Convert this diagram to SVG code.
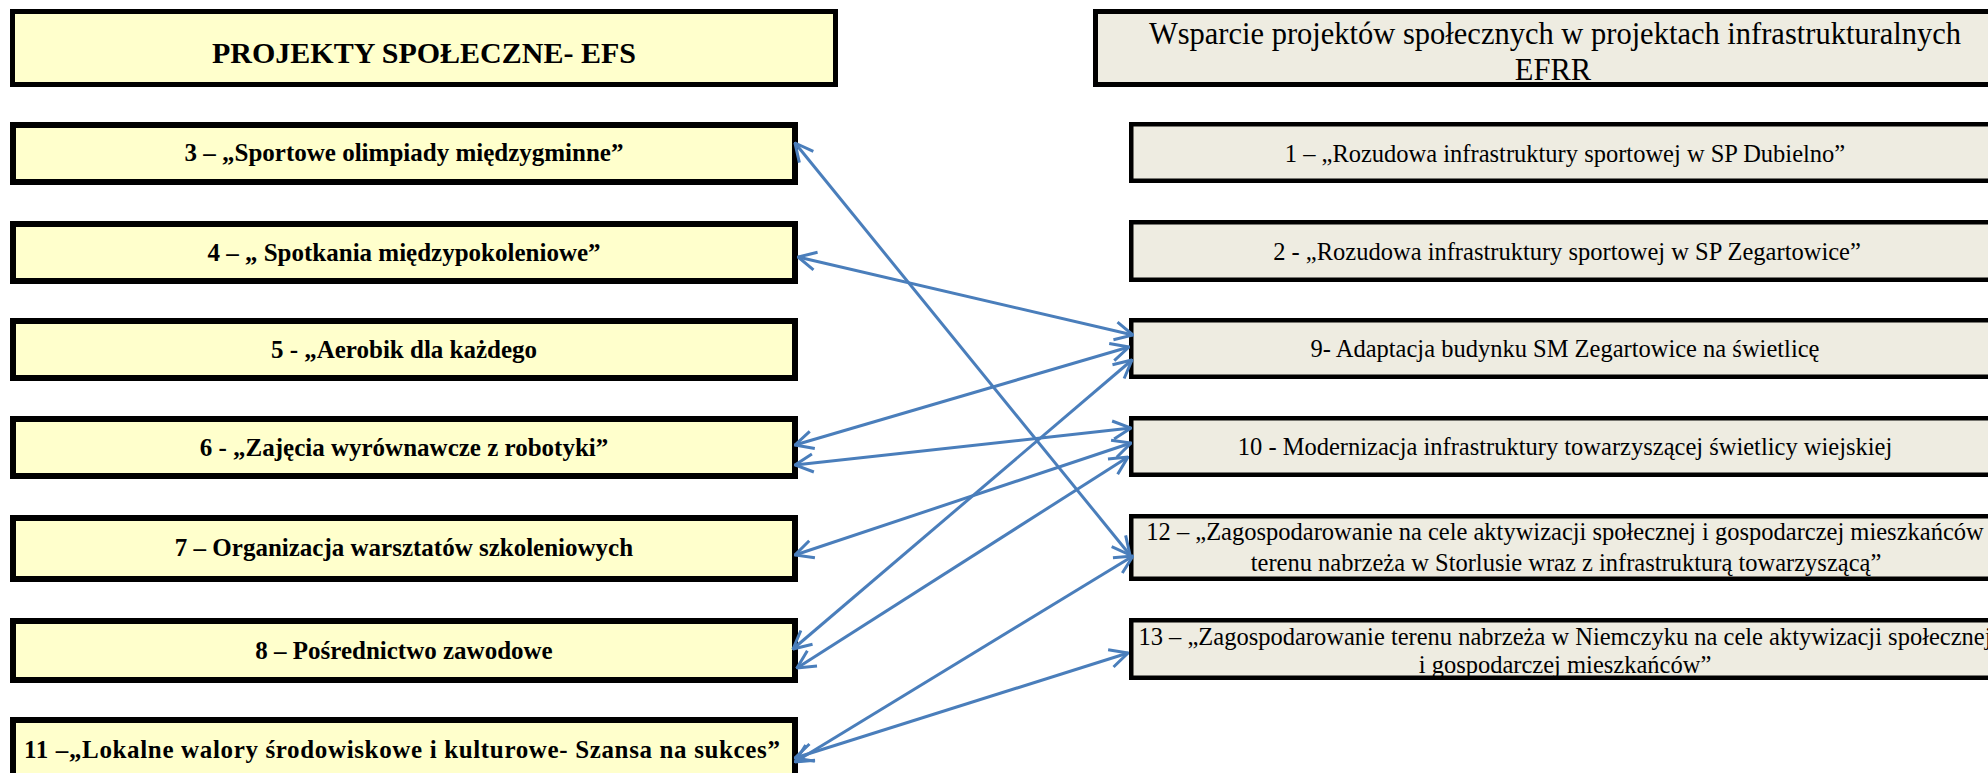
<svg xmlns="http://www.w3.org/2000/svg" width="1988" height="773" viewBox="0 0 1988 773">
<defs>
<style>
.lbox{fill:#FFFFCC;stroke:#000;stroke-width:6}
.lhead{fill:#FFFFCC;stroke:#000;stroke-width:5}
.rbox{fill:#EEECE1;stroke:#000;stroke-width:4.5}
.rhead{fill:#EEECE1;stroke:#000;stroke-width:5}
.lt{font-family:"Liberation Serif","Times New Roman",serif;font-weight:bold;font-size:25px;fill:#000;text-anchor:middle}
.rt{font-family:"Liberation Serif","Times New Roman",serif;font-size:24.5px;fill:#000;text-anchor:middle}
.conn line{stroke:#4A7EBB;stroke-width:3;fill:none;marker-start:url(#ah);marker-end:url(#ah)}
</style>
<marker id="ah" viewBox="0 0 22 22" refX="21" refY="11" markerWidth="22" markerHeight="22" markerUnits="userSpaceOnUse" orient="auto-start-reverse">
<path d="M3,2 L21,11 L3,20" fill="none" stroke="#4A7EBB" stroke-width="3"/>
</marker>
</defs>
<rect width="1988" height="773" fill="#FFFFFF"/>

<g id="efs-header">
<rect class="lhead" x="12.5" y="11.5" width="823" height="73"/>
<text class="lt" x="424" y="63" style="font-size:30px">PROJEKTY SPOŁECZNE- EFS</text>
</g>
<g id="p3">
<rect class="lbox" x="13" y="125" width="782" height="57"/>
<text class="lt" x="404" y="161">3 – „Sportowe olimpiady międzygminne”</text>
</g>
<g id="p4">
<rect class="lbox" x="13" y="224" width="782" height="57"/>
<text class="lt" x="404" y="261">4 – „ Spotkania międzypokoleniowe”</text>
</g>
<g id="p5">
<rect class="lbox" x="13" y="321" width="782" height="57"/>
<text class="lt" x="404" y="358">5 - „Aerobik dla każdego</text>
</g>
<g id="p6">
<rect class="lbox" x="13" y="419" width="782" height="57"/>
<text class="lt" x="404" y="456">6 - „Zajęcia wyrównawcze z robotyki”</text>
</g>
<g id="p7">
<rect class="lbox" x="13" y="518" width="782" height="61"/>
<text class="lt" x="404" y="556">7 – Organizacja warsztatów szkoleniowych</text>
</g>
<g id="p8">
<rect class="lbox" x="13" y="621" width="782" height="59"/>
<text class="lt" x="404" y="659">8 – Pośrednictwo zawodowe</text>
</g>
<g id="p11">
<rect class="lbox" x="13" y="720" width="782" height="70"/>
<text class="lt" x="24" y="758" style="text-anchor:start" textLength="756" lengthAdjust="spacing">11 –„Lokalne walory środowiskowe i kulturowe- Szansa na sukces”</text>
</g>

<g id="efrr-header">
<rect class="rhead" x="1095.5" y="11.5" width="930" height="73"/>
<text class="rt" x="1555" y="44" style="font-size:30.5px">Wsparcie projektów społecznych w projektach infrastrukturalnych</text>
<text class="rt" x="1553" y="80" style="font-size:30.5px">EFRR</text>
</g>
<g id="r1">
<rect class="rbox" x="1131.25" y="124.25" width="880" height="56.5"/>
<text class="rt" x="1565" y="162">1 – „Rozudowa infrastruktury sportowej w SP Dubielno”</text>
</g>
<g id="r2">
<rect class="rbox" x="1131.25" y="222.25" width="880" height="57.5"/>
<text class="rt" x="1567" y="260">2 - „Rozudowa infrastruktury sportowej w SP Zegartowice”</text>
</g>
<g id="r9">
<rect class="rbox" x="1131.25" y="320.25" width="880" height="56.5"/>
<text class="rt" x="1565" y="357">9- Adaptacja budynku SM Zegartowice na świetlicę</text>
</g>
<g id="r10">
<rect class="rbox" x="1131.25" y="418.25" width="880" height="56.5"/>
<text class="rt" x="1565" y="455">10 - Modernizacja infrastruktury towarzyszącej świetlicy wiejskiej</text>
</g>
<g id="r12">
<rect class="rbox" x="1131.25" y="516.25" width="880" height="62.5"/>
<text class="rt" x="1565" y="540">12 – „Zagospodarowanie na cele aktywizacji społecznej i gospodarczej mieszkańców</text>
<text class="rt" x="1566" y="571">terenu nabrzeża w Storlusie wraz z infrastrukturą towarzyszącą”</text>
</g>
<g id="r13">
<rect class="rbox" x="1131.25" y="620.25" width="880" height="57.5"/>
<text class="rt" x="1565" y="645">13 – „Zagospodarowanie terenu nabrzeża w Niemczyku na cele aktywizacji społecznej</text>
<text class="rt" x="1565" y="673">i gospodarczej mieszkańców”</text>
</g>

<g id="connectors" class="conn">
<line x1="795" y1="143" x2="1130" y2="555"/>
<line x1="798" y1="257" x2="1133" y2="335"/>
<line x1="795" y1="445" x2="1129" y2="347"/>
<line x1="795" y1="465" x2="1131" y2="428"/>
<line x1="795" y1="555" x2="1131" y2="443"/>
<line x1="793" y1="649" x2="1132" y2="360"/>
<line x1="797" y1="668" x2="1128" y2="457"/>
<line x1="795" y1="762" x2="1133" y2="556"/>
<line x1="795" y1="758" x2="1128" y2="653"/>
</g>
</svg>
